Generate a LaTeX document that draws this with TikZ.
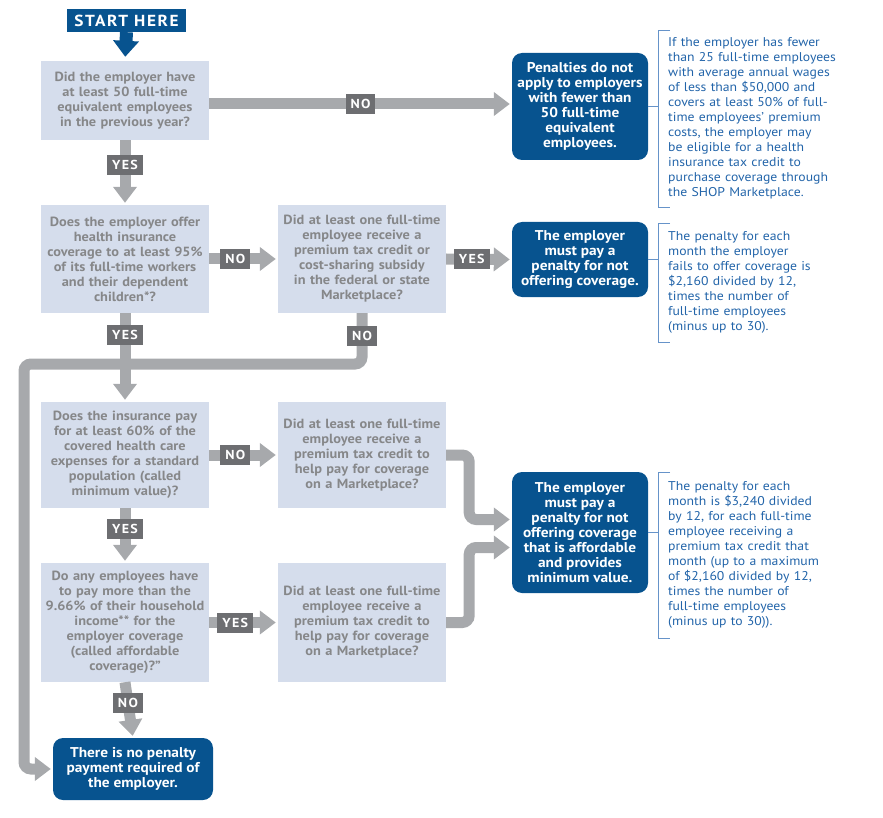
\documentclass[tikz,border=0pt]{standalone}
\usepackage{fontspec}
\setmainfont{PT Sans}[FakeStretch=1.08]
\newfontfamily\tagfont[LetterSpace=10,FakeStretch=1.08]{PT Sans}
\usepackage{tikz}
\usetikzlibrary{arrows.meta,positioning}
\definecolor{qfill}{HTML}{D5DDEC}
\definecolor{qtext}{HTML}{868789}
\definecolor{rblue}{HTML}{07538F}
\definecolor{flowgray}{HTML}{A7A9AC}
\definecolor{tagdark}{HTML}{6D6E71}
\definecolor{noteblue}{HTML}{2264A9}
\definecolor{bracketblue}{HTML}{6693C9}
\tikzset{question/.style={fill=qfill,text=qtext,align=center,text width=164pt,inner xsep=2pt,
           font=\fontsize{13.3}{15}\selectfont\bfseries},
         result/.style={fill=rblue,text=white,align=center,rounded corners=10pt,inner xsep=2pt,
           font=\fontsize{14.2}{15}\selectfont\bfseries},
         answer/.style={fill=tagdark,text=white,sharp corners,inner xsep=5pt,inner ysep=0pt,
           minimum height=20pt,font=\tagfont\fontsize{13}{13}\selectfont\bfseries},
         note/.style={text=noteblue,align=left,anchor=north west,text width=190pt,inner xsep=10pt,
           inner ysep=0pt,font=\fontsize{12.7}{15}\selectfont},
         bracket/.style={draw=bracketblue,line width=0.8pt},
         flow/.style={draw=flowgray,line width=11pt,rounded corners=7pt,shorten >=2pt,
           -{Triangle[width=23pt,length=16pt]}},
         startarrow/.style={draw=rblue,line width=13pt,shorten >=4pt,
           -{Triangle[width=25pt,length=16pt]}}}

\begin{document}
\begin{tikzpicture}[x=1pt,y=-1pt]
  \useasboundingbox (0,0) rectangle (883,818);

  \node[result,rounded corners=0pt,minimum width=119pt,minimum height=23pt,
        font=\tagfont\fontsize{16}{16}\selectfont\bfseries] (start) at (126.5,20.5) {START HERE};

  \node[question,minimum height=79pt] (q1) at (125,100.5)
    {Did the employer have\\ at least 50 full-time\\ equivalent employees\\ in the previous year?};
  \node[question,minimum height=108pt] (q2) at (125,259)
    {Does the employer offer\\ health insurance\\ coverage to at least 95\%\\ of its full-time workers\\ and their dependent\\ children*?};
  \node[question,minimum height=108pt] (q3) at (362,259)
    {Did at least one full-time\\ employee receive a\\ premium tax credit or\\ cost-sharing subsidy\\ in the federal or state\\ Marketplace?};
  \node[question,minimum height=106pt] (q4) at (125,455)
    {Does the insurance pay\\ for at least 60\% of the\\ covered health care\\ expenses for a standard\\ population (called\\ minimum value)?};
  \node[question,minimum height=106pt] (q5) at (362,455)
    {Did at least one full-time\\ employee receive a\\ premium tax credit to\\ help pay for coverage\\ on a Marketplace?};
  \node[question,minimum height=119pt] (q6) at (125,622.5)
    {Do any employees have\\ to pay more than the\\ 9.66\% of their household\\ income** for the\\ employer coverage\\ (called affordable\\ coverage)?”};
  \node[question,minimum height=119pt] (q7) at (362,622.5)
    {Did at least one full-time\\ employee receive a\\ premium tax credit to\\ help pay for coverage\\ on a Marketplace?};

  \node[result,minimum width=136pt,minimum height=107pt] (r1) at (580,106.5)
    {Penalties do not\\ apply to employers\\ with fewer than\\ 50 full-time\\ equivalent\\ employees.};
  \node[result,minimum width=136pt,minimum height=75pt] (r2) at (580,259.5)
    {The employer\\ must pay a\\ penalty for not\\ offering coverage.};
  \node[result,minimum width=136pt,minimum height=121pt] (r3) at (580,532.5)
    {The employer\\ must pay a\\ penalty for not\\ offering coverage\\ that is affordable\\ and provides\\ minimum value.};
  \node[result,minimum width=160pt,minimum height=62pt] (r4) at (133,769)
    {There is no penalty\\ payment required of\\ the employer.};

  \node[note,minimum height=177pt] (n1) at (658,30)
    {If the employer has fewer\\ than 25 full-time employees\\ with average annual wages\\ of less than \$50,000 and\\ covers at least 50\% of full-\\ time employees’ premium\\ costs, the employer may\\ be eligible for a health\\ insurance tax credit to\\ purchase coverage through\\ the SHOP Marketplace.};
  \node[note,minimum height=119pt] (n2) at (658,223)
    {The penalty for each\\ month the employer\\ fails to offer coverage is\\ \$2,160 divided by 12,\\ times the number of\\ full-time employees\\ (minus up to 30).};
  \node[note,minimum height=166pt] (n3) at (658,472)
    {The penalty for each\\ month is \$3,240 divided\\ by 12, for each full-time\\ employee receiving a\\ premium tax credit that\\ month (up to a maximum\\ of \$2,160 divided by 12,\\ times the number of\\ full-time employees\\ (minus up to 30)).};

  \foreach \r/\n in {r1/n1,r2/n2,r3/n3}{
    \draw[bracket] ([xshift=12pt]\n.north west) -- (\n.north west) -- (\n.south west)
      -- ([xshift=12pt]\n.south west);
    \draw[bracket] (\r.east) -- (\r.east -| \n.west);
  }

  \coordinate (loop) at (24,364);
  \draw[flow] (q3.south) |- node[answer,pos=0.22]{NO} (loop) |- (r4.west);

  \path ([yshift=-3.5pt]q1.east) coordinate (q1no);
  \draw[startarrow] (start.south) -- (q1.north);
  \draw[flow] (q1no) -- node[answer]{NO} (q1no -| r1.west);
  \draw[flow] (q1.south) -- node[answer,pos=0.38]{YES} (q2.north);
  \draw[flow] (q2.east) -- node[answer,pos=0.38]{NO} (q3.west);
  \draw[flow] (q3.east) -- node[answer,pos=0.39]{YES} (r2.west);
  \draw[flow] (q2.south) -- node[answer,pos=0.25]{YES} (q4.north);
  \draw[flow] (q4.east) -- node[answer,pos=0.38]{NO} (q5.west);
  \draw[flow] (q4.south) -- node[answer,pos=0.38]{YES} (q6.north);
  \draw[flow] (q6.east) -- node[answer,pos=0.38]{YES} (q7.west);
  \draw[flow] (q6.south) -- node[answer,pos=0.37]{NO} (r4.north);
  \draw[flow] (q5.east) -- ++(23,0) |- ([yshift=13pt]r3.west);
  \draw[flow] (q7.east) -- ++(23,0) |- ([yshift=-15pt]r3.west);
\end{tikzpicture}
\end{document}
